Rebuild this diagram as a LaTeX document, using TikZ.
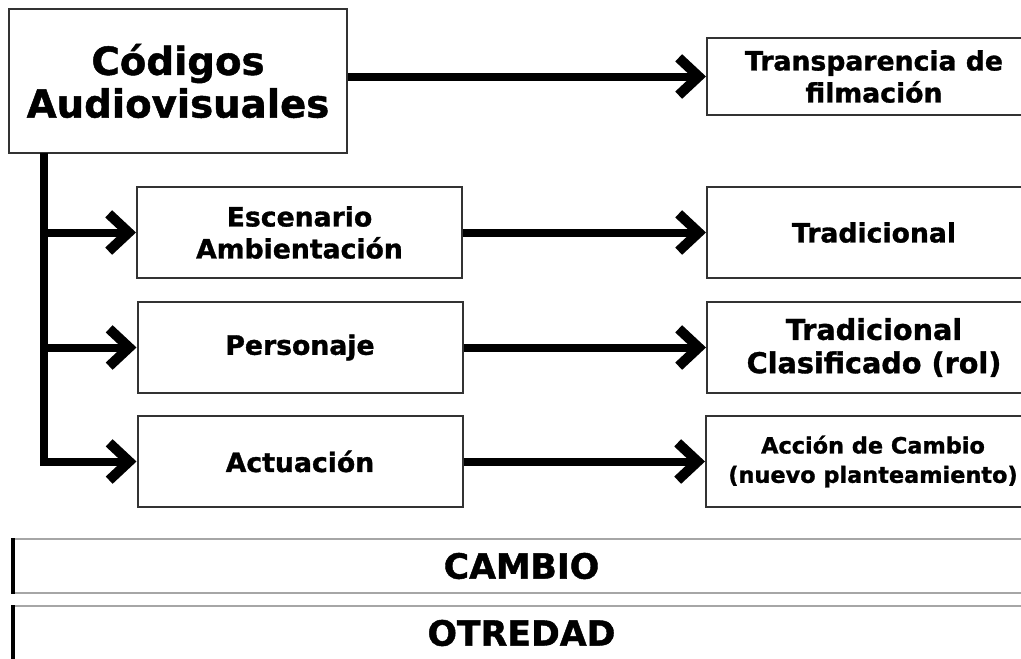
\documentclass[tikz,border=0pt]{standalone}
\usepackage{fontspec}
\setmainfont{DejaVu Sans}[BoldFont={DejaVu Sans Bold}, BoldFeatures={FakeBold=1.2}]
\usepackage{tikz}
\usetikzlibrary{arrows.meta, positioning}

\begin{document}
\begin{tikzpicture}[x=0.75pt, y=-0.75pt,
    box/.style={draw=black!80, line width=1.5pt, align=center, inner sep=0pt,
        font=\bfseries\fontsize{20}{24}\selectfont},
    leftbox/.style={box, minimum width=243.75pt, minimum height=68.25pt},
    rightbox/.style={box, minimum width=250.5pt, minimum height=68.25pt},
    bar/.style={draw=black!35, line width=1.2pt, inner sep=0pt,
        minimum width=762pt, minimum height=40.5pt,
        font=\bfseries\fontsize{26}{30}\selectfont},
    flow/.style={line width=6pt, -{Straight Barb[length=15pt,width=28pt,line width=7.5pt]}}]

\useasboundingbox (0,0) rectangle (1021,658);

\node[box, minimum width=253.5pt, minimum height=108pt,
    font=\bfseries\fontsize{29}{32}\selectfont] at (178,81) (cod) {Códigos\\Audiovisuales};

\node[rightbox, minimum height=57.75pt] at (874,76.5) (trans) {Transparencia de\\filmación};

\node[leftbox] at (299.5,232.5) (esc) {Escenario\\Ambientación};
\node[rightbox] at (874,232.5) (trad) {Tradicional};

\node[leftbox] at (300,347.5) (pers) {Personaje};
\node[rightbox, font=\bfseries\fontsize{21.5}{25}\selectfont] at (874,347.5) (clas) {Tradicional\\Clasificado (rol)};

\node[leftbox] at (300,461.5) (act) {Actuación};
\node[rightbox, font=\bfseries\fontsize{16.8}{22}\selectfont] at (873,461.5) (accion) {Acción de Cambio\\(nuevo planteamiento)};

\coordinate (root) at (44,153);

\draw[flow] (cod.east |- trans.west) -- (trans.west);
\draw[flow] (root |- esc.west) -- (esc.west);
\draw[flow] (root |- pers.west) -- (pers.west);
\draw[flow] (root) |- (act.west);
\draw[flow] (esc.east) -- (trad.west);
\draw[flow] (pers.east) -- (clas.west);
\draw[flow] (act.east) -- (accion.west);

\node[bar] at (521.5,566) (cambio) {CAMBIO};
\node[bar] at (521.5,633) (otredad) {OTREDAD};
\draw[line width=3pt] (cambio.north west) -- (cambio.south west);
\draw[line width=3pt] (otredad.north west) -- (otredad.south west);

\end{tikzpicture}
\end{document}
